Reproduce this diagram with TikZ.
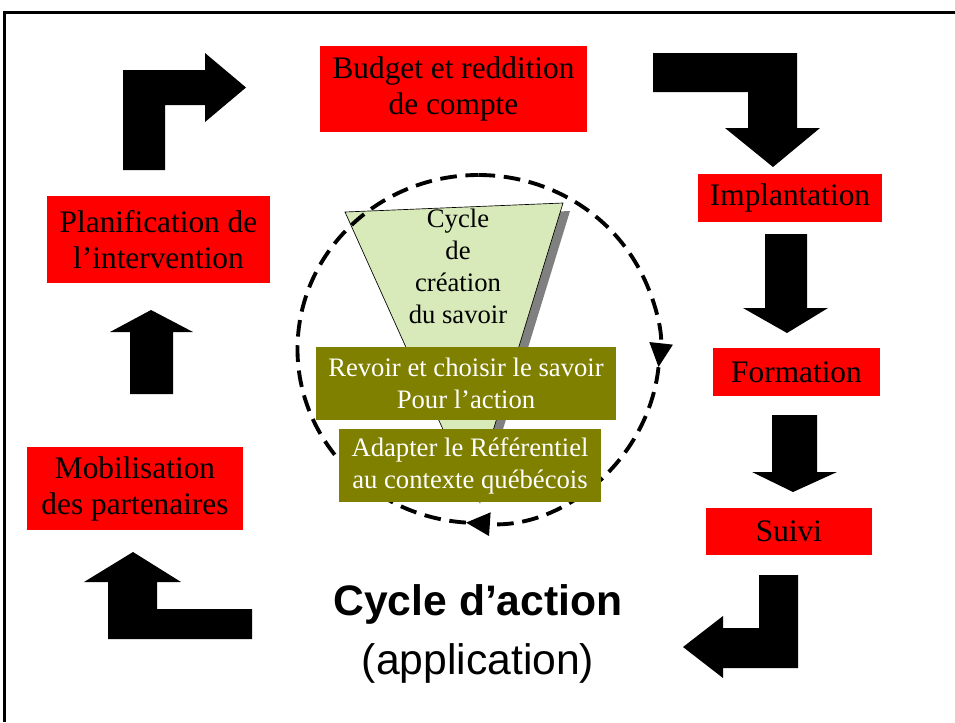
\documentclass[tikz,border=0pt]{standalone}
\usepackage{fontspec}
\setmainfont{Liberation Serif}
\setsansfont{Liberation Sans}
\usetikzlibrary{arrows.meta}
\definecolor{funnelgreen}{RGB}{216,234,186}
\definecolor{savoirolive}{RGB}{128,128,0}
\tikzset{
  redbox/.style={fill=red, inner sep=0pt, align=center, font=\fontsize{23.5}{27}\selectfont},
  savoirbox/.style={fill=savoirolive, text=white, inner sep=0pt, align=center, font=\fontsize{20}{24}\selectfont},
  cycleline/.style={line width=2.9pt, dash pattern=on 12.5pt off 6.5pt},
  cyclehead/.style={-{Triangle[width=17pt,length=18pt]}},
}
\begin{document}
\begin{tikzpicture}[x=0.75pt, y=-0.75pt]
\useasboundingbox (0,0) rectangle (955,722);
\draw[line width=2.25pt] (4.5,722) -- (4.5,12.5) -- (955,12.5);

% Steps of the action cycle
\node[redbox, minimum width=200.25pt, minimum height=64.5pt] (budget) at (453.5,89) {Budget et reddition\\de compte};
\node[redbox, minimum width=138pt, minimum height=36pt] (implant) at (790,198) {Implantation};
\node[redbox, minimum width=125.25pt, minimum height=36pt] (formation) at (796.5,372) {Formation};
\node[redbox, minimum width=124.5pt, minimum height=35.25pt] (suivi) at (789,531.5) {Suivi};
\node[redbox, minimum width=162pt, minimum height=62.25pt] (mobil) at (135,488.5) {Mobilisation\\des partenaires};
\node[redbox, minimum width=167.25pt, minimum height=65.25pt] (planif) at (158.5,239.5) {Planification de\\l'intervention};

% Block arrows
\fill (123,170) -- (123,70) -- (205,70) -- (205,53) -- (246,87.5) -- (205,122) -- (205,105) -- (165,105) -- (165,170) -- cycle;
\fill (653,53) -- (797,53) -- (797,128) -- (820,128) -- (773,167) -- (725,128) -- (748,128) -- (748,92) -- (653,92) -- cycle;
\fill (765,234) -- (807,234) -- (807,308) -- (828,308) -- (787,333) -- (743,308) -- (765,308) -- cycle;
\fill (772,415) -- (817,415) -- (817,472) -- (837,472) -- (793,492) -- (752,472) -- (772,472) -- cycle;
\fill (759,575) -- (798,575) -- (798,668) -- (723,668) -- (723,678) -- (683,647) -- (723,616) -- (723,628) -- (759,628) -- cycle;
\fill (252,609) -- (252,639) -- (108,639) -- (108,582) -- (84,582) -- (133,552) -- (181,582) -- (157,582) -- (157,609) -- cycle;
\fill (130,394) -- (130,332) -- (110,332) -- (151,310) -- (193,332) -- (173,332) -- (173,394) -- cycle;

% Knowledge funnel
\fill[gray] (352,220) -- (570,211) -- (480,504) -- cycle;
\draw[fill=funnelgreen, line width=0.5pt] (345,212) -- (563,203) -- (473,496) -- cycle;
\node[align=center, font=\fontsize{20}{24}\selectfont] (savoir) at (458,266) {Cycle\\de\\création\\du savoir};

% Dashed cycle
\coordinate (c) at (478.5,349);
\draw[cycleline, cyclehead] (c) ++(-90:181 and 174) arc[start angle=-90, end angle=6, x radius=181, y radius=174];
\draw[cycleline, cyclehead] (c) ++(6:181 and 174) arc[start angle=6, end angle=94, x radius=181, y radius=174];
\draw[cycleline] (c) ++(94:181 and 174) arc[start angle=94, end angle=270, x radius=181, y radius=174];

\node[savoirbox, minimum width=225pt, minimum height=54.75pt] (revoir) at (466,383.5) {Revoir et choisir le savoir\\Pour l'action};
\node[savoirbox, minimum width=196.5pt, minimum height=54.75pt] (adapter) at (470,465.5) {Adapter le Référentiel\\au contexte québécois};

% Title
\node[font=\sffamily\bfseries\fontsize{32}{38}\selectfont] (titre) at (478,604) {Cycle d'action};
\node[font=\sffamily\fontsize{32}{38}\selectfont] (soustitre) at (478,663) {(application)};
\end{tikzpicture}
\end{document}
